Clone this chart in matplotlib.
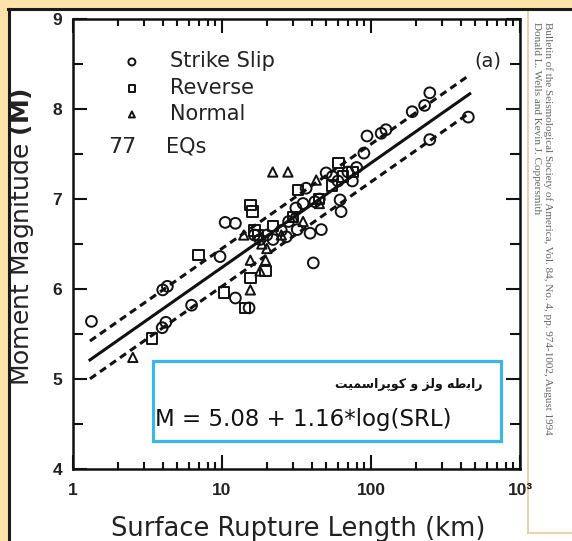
import numpy as np
import matplotlib
matplotlib.use("Agg")
import matplotlib.pyplot as plt
from matplotlib.patches import Rectangle
from matplotlib.lines import Line2D
from matplotlib.ticker import FixedLocator, MultipleLocator, LogLocator, NullFormatter

# --- data (SRL in km, moment magnitude) ---
ss_len = [1.33, 3.97, 4.2, 4.0, 4.3, 6.25, 9.7, 10.5, 12.3, 12.3,
          15.2, 16.5, 18, 20, 22, 25, 27, 28, 31.3, 32,
          35, 36.7, 39, 41, 42, 45, 46.4, 50, 55, 60,
          62, 63, 70, 75, 80, 89.6, 94, 117, 126, 189,
          229, 248, 248, 450]
ss_mag = [5.64, 5.57, 5.63, 5.99, 6.03, 5.82, 6.36, 6.74, 6.73, 5.9,
          5.79, 6.6, 6.55, 6.6, 6.55, 6.65, 6.58, 6.75, 6.9, 6.66,
          6.95, 7.12, 6.62, 6.29, 6.97, 7.0, 6.66, 7.29, 7.25, 7.2,
          6.99, 6.86, 7.3, 7.2, 7.35, 7.51, 7.7, 7.73, 7.77, 7.97,
          8.04, 8.18, 7.66, 7.91]

rv_len = [3.4, 6.97, 10.3, 14.3, 15.5, 15.5, 16, 16.5, 17.5, 19.6,
          22, 30, 32.2, 45, 55, 60.5, 65, 75]
rv_mag = [5.45, 6.38, 5.96, 5.79, 6.93, 6.12, 6.86, 6.65, 6.6, 6.2,
          6.7, 6.8, 7.1, 7.0, 7.15, 7.4, 7.25, 7.3]

nm_len = [2.52, 14, 15.5, 15.5, 18, 18.5, 19.6, 20, 21.9, 25,
          27.7, 30, 35, 42.9, 45]
nm_mag = [5.24, 6.6, 6.32, 5.99, 6.2, 6.5, 6.32, 6.45, 7.3, 6.6,
          7.3, 6.8, 6.75, 7.21, 6.95]

# regression M = a + b*log(SRL), drawn over the range shown
fit_a = 5.08
fit_b = 1.16
fit_band = 0.21
fit_range = [1.3, 460]

x_ticks = [1, 10, 100, 1000]
x_ticklabels = ["1", "10", "100", "10³"]
y_ticks = [4, 5, 6, 7, 8, 9]

W, H = 572, 541
fig = plt.figure(figsize=(W / 100, H / 100), dpi=100, facecolor="#FDE3A8")

# page background and frame lines
fig.patches.append(Rectangle((10 / W, 0), 1, 1 - 10 / H, transform=fig.transFigure,
                             facecolor="white", edgecolor="none", zorder=-5))
fig.add_artist(Line2D([8 / W, 1], [1 - 9 / H] * 2, color="#1a1a1a", lw=2.2))
fig.add_artist(Line2D([8.5 / W] * 2, [0, 1 - 9 / H], color="#1a1a1a", lw=2.2))
fig.add_artist(Line2D([528 / W] * 2, [1 - 533 / H, 1 - 12 / H], color="#E8C9A0", lw=1.2))
fig.add_artist(Line2D([528 / W, 1], [1 - 533 / H] * 2, color="#E8C9A0", lw=1.2))

ax = fig.add_axes([73 / W, 1 - 469 / H, (520 - 73) / W, (469 - 19) / H])
ax.set_zorder(2)
ax.set_xscale("log")
ax.set_xlim(1, 1000)
ax.set_ylim(4, 9)
for s in ax.spines.values():
    s.set_linewidth(1.8)
    s.set_color("#111")

mk = dict(facecolors="none", edgecolors="#111", linewidths=1.4, zorder=3)
h_ss = ax.scatter(ss_len, ss_mag, marker="o", s=60, **mk)
h_rv = ax.scatter(rv_len, rv_mag, marker="s", s=55, **mk)
h_nm = ax.scatter(nm_len, nm_mag, marker="^", s=45, **mk)

fx = np.array(fit_range)
fy = fit_a + fit_b * np.log10(fx)
ax.plot(fx, fy, color="#111", lw=2.2, zorder=4)
ax.plot(fx, fy + fit_band, color="#111", lw=2.2, ls=(0, (2.4, 1.6)), zorder=4)
ax.plot(fx, fy - fit_band, color="#111", lw=2.2, ls=(0, (2.4, 1.6)), zorder=4)

# ticks
ax.xaxis.set_major_locator(FixedLocator(x_ticks))
ax.set_xticklabels(x_ticklabels)
ax.xaxis.set_minor_locator(LogLocator(base=10, subs=np.arange(2, 10)))
ax.xaxis.set_minor_formatter(NullFormatter())
ax.yaxis.set_major_locator(FixedLocator(y_ticks))
ax.yaxis.set_minor_locator(MultipleLocator(0.5))
ax.tick_params(which="both", direction="in", top=True, right=True, width=1.5, color="#111")
ax.tick_params(axis="y", which="major", length=10, pad=8)
ax.tick_params(axis="y", which="minor", length=7)
ax.tick_params(axis="x", which="major", length=10, pad=10)
ax.tick_params(axis="x", which="minor", length=5)
for lab in ax.get_xticklabels() + ax.get_yticklabels():
    lab.set_fontfamily("Liberation Sans")
    lab.set_fontweight("bold")
    lab.set_fontsize(12.5)
    lab.set_color("#222")

# legend
ax.legend([h_ss, h_rv, h_nm], ["Strike Slip", "Reverse", "Normal"],
          loc="upper left", bbox_to_anchor=(0.1096, 0.928), frameon=False,
          fontsize=15, markerscale=0.65, handlelength=0.95, handletextpad=1.35,
          labelspacing=0.3, borderpad=0, borderaxespad=0, scatterpoints=1,
          labelcolor="#222")
ax.text(0.078, 0.716, "77", transform=ax.transAxes, fontsize=16, va="center", color="#222")
ax.text(0.209, 0.716, "EQs", transform=ax.transAxes, fontsize=15, va="center", color="#222")
ax.text(0.928, 0.907, "(a)", transform=ax.transAxes, fontsize=14, ha="center", va="center", color="#222")

# equation box
ax.add_patch(Rectangle((0.179, 0.0622), 0.7785, 0.178, transform=ax.transAxes,
                       facecolor="white", edgecolor="#3CB6E3", lw=2.3, zorder=5))
# "رابطه ولز و کوپراسمیت" in shaped presentation forms, visual order
fa_title = ("\uFE96\uFBFF\uFEE4\uFEB3\uFE8D\uFEAE\uFB58\uFEEE\uFB90"
            " \uFEED "
            "\uFEB0\uFEDF\uFEED"
            " \uFEEA\uFEC3\uFE91\uFE8D\uFEAD")
ax.text(0.917, 0.1867, fa_title, transform=ax.transAxes, fontsize=9, fontweight="bold",
        ha="right", va="center", color="#111", zorder=6, family=["DejaVu Sans"])
ax.text(0.1834, 0.109, "M = 5.08 + 1.16*log(SRL)", transform=ax.transAxes,
        fontsize=16.5, ha="left", va="center", color="#111", zorder=6)

# axis titles
fig.text(22 / W, 1 - 237 / H, "Moment Magnitude $\\mathbf{(M)}$", rotation=90,
         ha="center", va="center", fontsize=18, color="#222")
fig.text(298 / W, 1 - 529 / H, "Surface Rupture Length (km)",
         ha="center", va="center", fontsize=18.5, color="#222")

# citation strip
fig.text(536 / W, 1 - 22 / H, "Donald L. Wells and Kevin J. Coppersmith", rotation=-90,
         ha="center", va="top", fontsize=8, family="Liberation Serif", color="#666")
fig.text(548 / W, 1 - 22 / H,
         "Bulletin of the Seismological Society of America, Vol. 84, No. 4, pp. 974-1002, August 1994",
         rotation=-90, ha="center", va="top", fontsize=8, family="Liberation Serif", color="#666")

fig.savefig("out.png", dpi=100, facecolor=fig.get_facecolor())
